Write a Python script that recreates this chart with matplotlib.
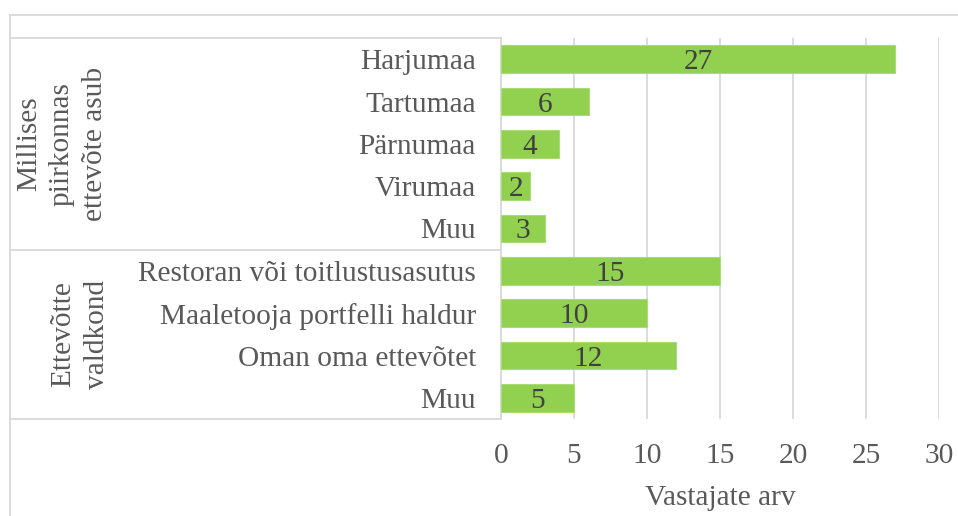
import matplotlib
matplotlib.use("Agg")
import matplotlib.pyplot as plt
from matplotlib.transforms import blended_transform_factory
from matplotlib.lines import Line2D

categories = ["Harjumaa", "Tartumaa", "Pärnumaa", "Virumaa", "Muu",
              "Restoran või toitlustusasutus", "Maaletooja portfelli haldur",
              "Oman oma ettevõtet", "Muu"]
values = [27, 6, 4, 2, 3, 15, 10, 12, 5]
groups = ["Millises\npiirkonnas\nettevõte asub", "Ettevõtte\nvaldkond"]
group_sizes = [5, 4]
xticks = [0, 5, 10, 15, 20, 25, 30]
xlabel = "Vastajate arv"

W, H = 958, 516
plt.rcParams['font.family'] = ['Liberation Serif', 'DejaVu Serif']
FS = 21.2
TXT = "#595959"
GRID = "#D9D9D9"

fig = plt.figure(figsize=(W / 100, H / 100), dpi=100)
def fx(px): return px / W
def fy(py): return 1 - py / H

ax = fig.add_axes([fx(501), fy(419), fx(939) - fx(501), (419 - 38) / H])
pos = list(range(len(categories)))
ax.barh(pos, values, height=0.66, color="#92D050", edgecolor="#A9DC74", linewidth=0.8, zorder=3)
for p, v in zip(pos, values):
    ax.text(v / 2, p, str(v), ha="center", va="center_baseline", fontsize=FS, color="#404040", zorder=4)

ax.set_xlim(0, 30)
ax.set_ylim(len(categories) - 0.5, -0.5)
ax.set_xticks(xticks)
ax.set_xticklabels([str(t) for t in xticks], fontsize=FS, color=TXT)
ax.set_yticks(pos)
ax.set_yticklabels(categories, fontsize=FS, color=TXT)
for lbl in ax.get_yticklabels():
    lbl.set_va("center_baseline")
ax.tick_params(axis="both", length=0)
ax.tick_params(axis="y", pad=18)
ax.tick_params(axis="x", pad=17)
ax.xaxis.grid(True, color=GRID, linewidth=1.3, zorder=0)
ax.set_axisbelow(True)
for s in ["top", "right", "bottom"]:
    ax.spines[s].set_visible(False)
ax.spines["left"].set_color(GRID)
ax.spines["left"].set_linewidth(1.3)
ax.set_xlabel(xlabel, fontsize=FS, color=TXT, labelpad=12)

# category table lines
tr = blended_transform_factory(fig.transFigure, ax.transData)
bounds = [-0.5]
acc = -0.5
for g in group_sizes:
    acc += g
    bounds.append(acc)
for b in bounds:
    ax.add_line(Line2D([fx(10), fx(501)], [b, b], transform=tr, color=GRID, lw=1.3, clip_on=False))

# outer chart border
fig.add_artist(Line2D([fx(10), 1.0], [fy(15), fy(15)], color=GRID, lw=1.3))
fig.add_artist(Line2D([fx(10), fx(10)], [fy(15), 0.0], color=GRID, lw=1.3))

# group labels
gx = [62, 80]
start = -0.5
for g, n, x in zip(groups, group_sizes, gx):
    mid = start + n / 2
    ax.text(fx(x), mid, g, transform=tr, rotation=90, ha="center", va="center",
            multialignment="center", fontsize=FS, color=TXT, linespacing=1.35)
    start += n

fig.savefig("out.png", dpi=100)
